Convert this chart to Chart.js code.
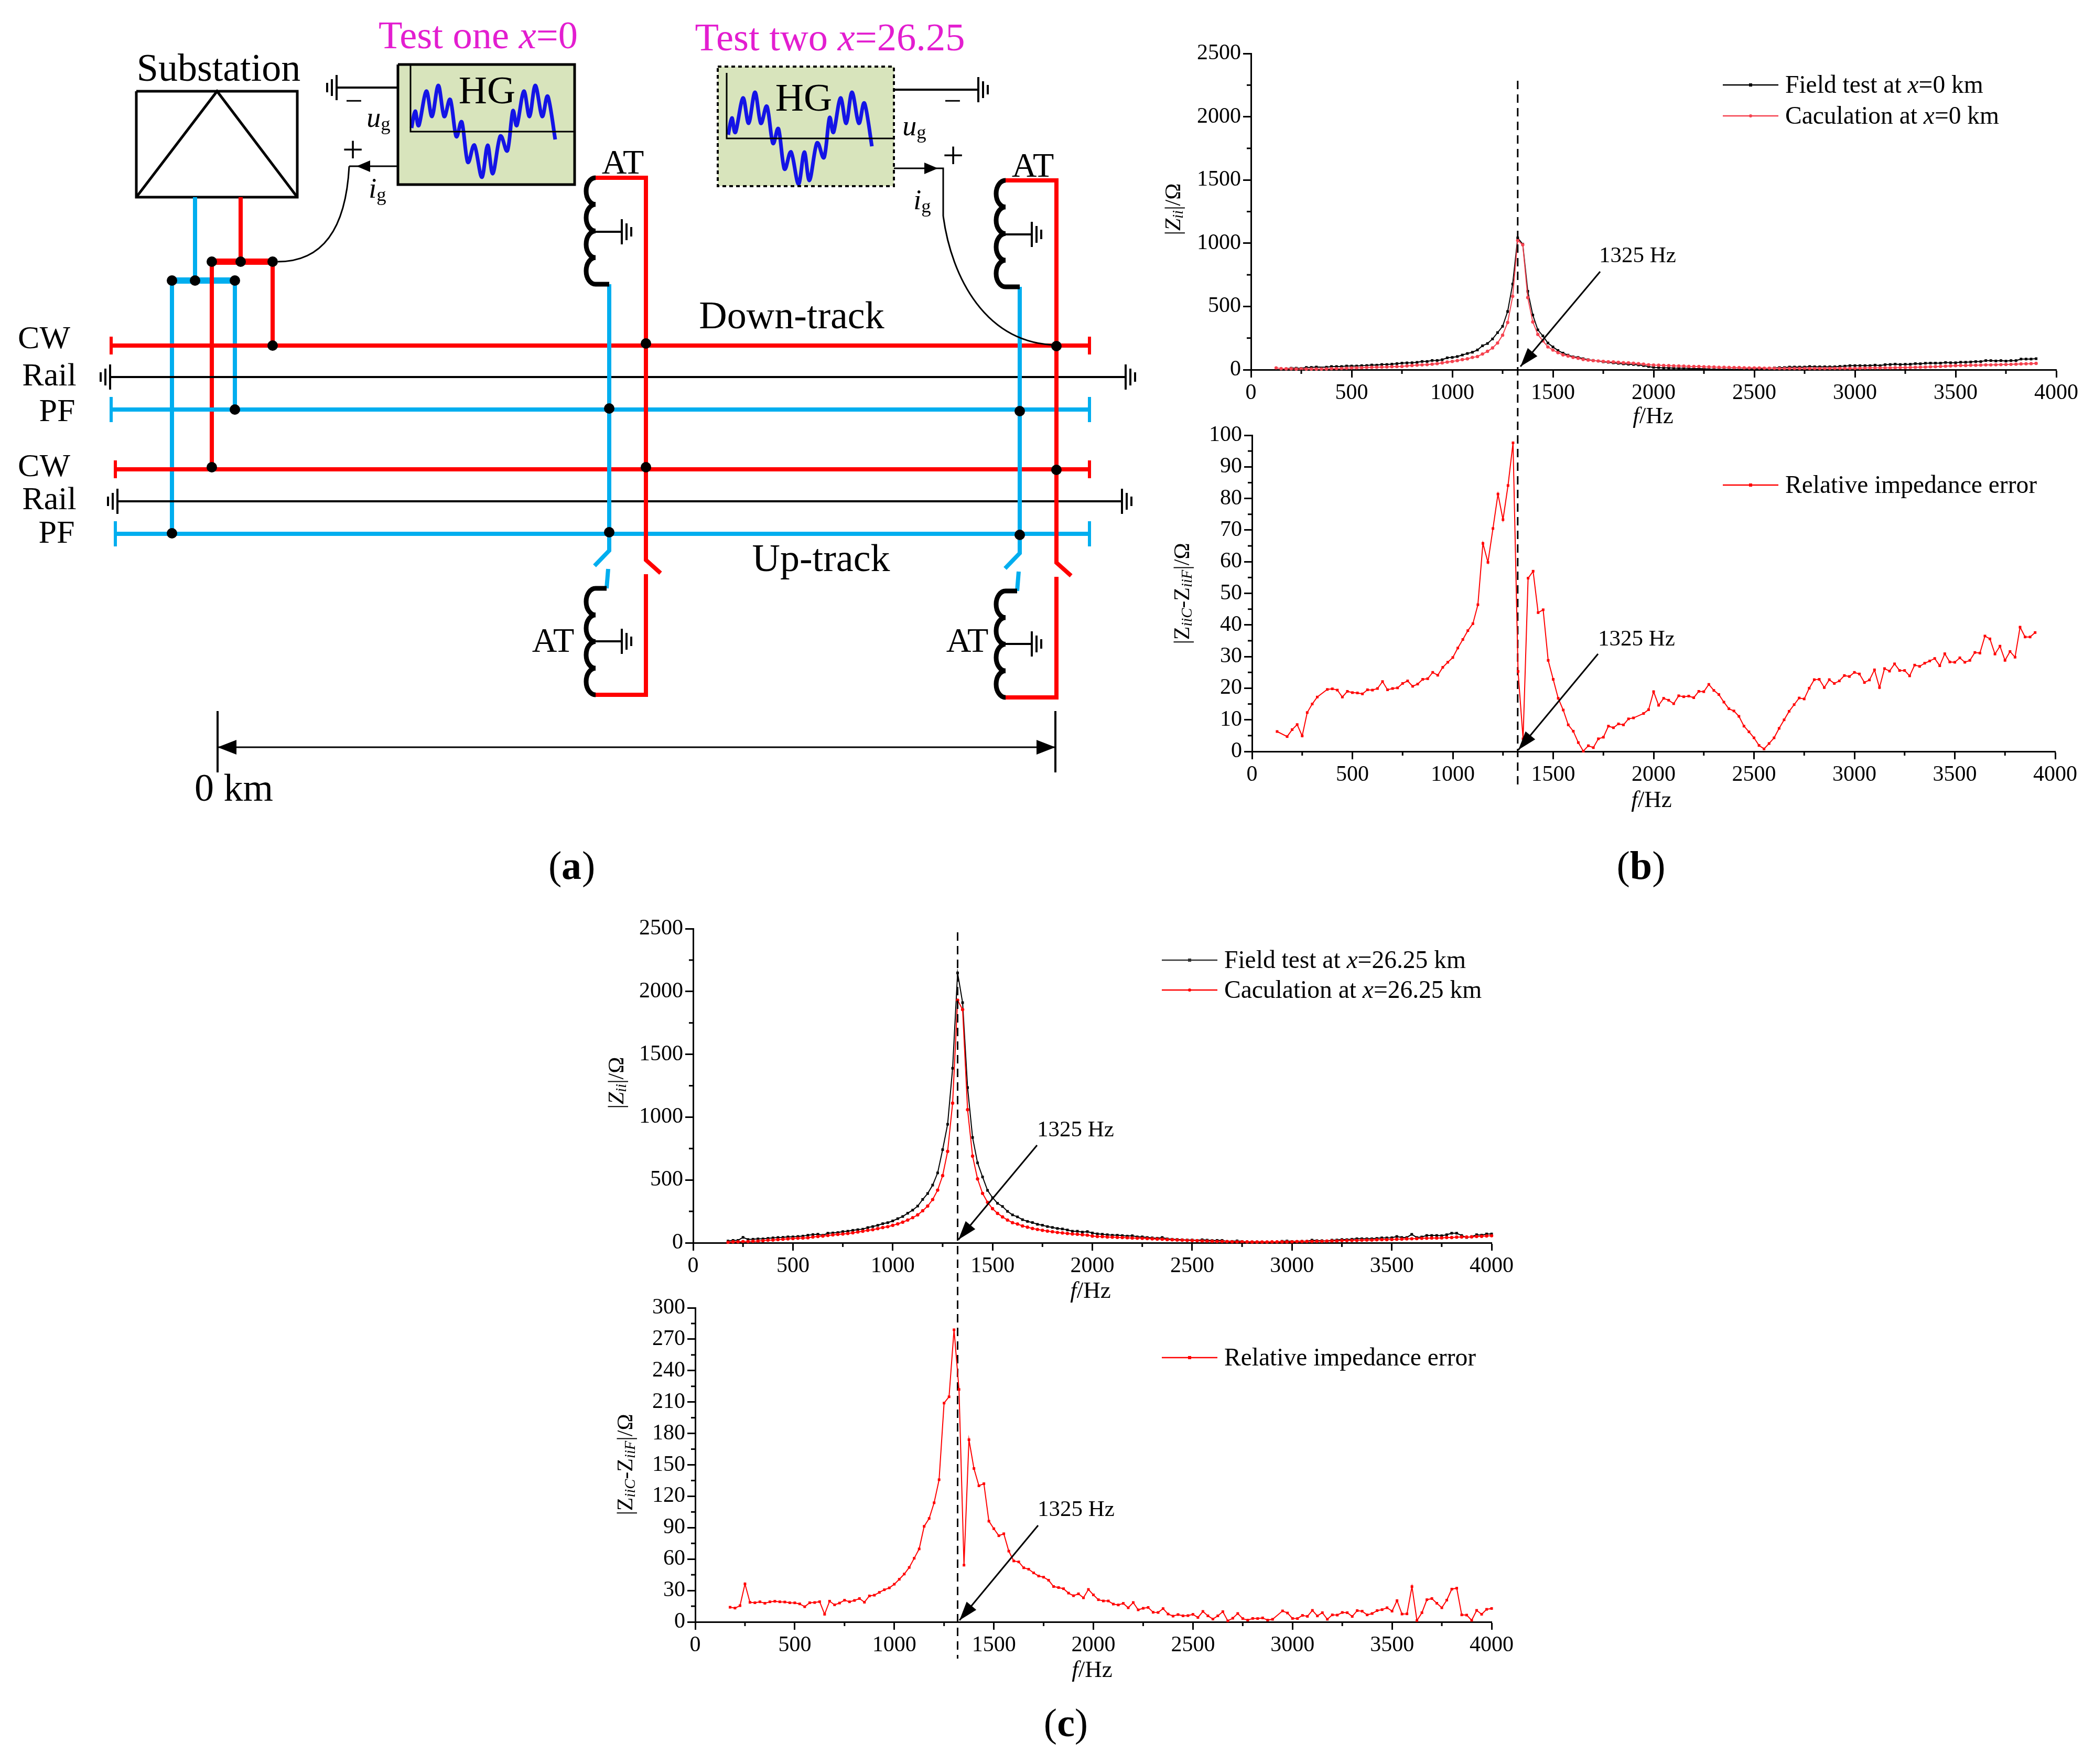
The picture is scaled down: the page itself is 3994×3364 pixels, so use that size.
<!doctype html>
<html lang="en">
<head>
<meta charset="utf-8">
<title>Impedance frequency scan</title>
<script src="https://cdn.jsdelivr.net/npm/chart.js@4/dist/chart.umd.min.js"></script>
<style>
  html, body { margin: 0; padding: 0; background: #fff; }
  #page { position: relative; width: 3994px; height: 3364px; overflow: hidden; }
  canvas { position: absolute; }
</style>
</head>
<body>
<div id="page"></div>
<script>
// frequency points, panel (b) and panel (c)
const freqB = [125,150,175,200,225,250,275,300,325,350,375,400,425,450,475,500,525,550,575,600,625,650,675,700,
  725,750,775,800,825,850,875,900,925,950,975,1000,1025,1050,1075,1100,1125,1150,1175,1200,1225,1250,1275,1300,
  1325,1350,1375,1400,1425,1450,1475,1500,1525,1550,1575,1600,1625,1650,1675,1700,1725,1750,1775,1800,1825,1850,1875,1900,
  1925,1950,1975,2000,2025,2050,2075,2100,2125,2150,2175,2200,2225,2250,2275,2300,2325,2350,2375,2400,2425,2450,2475,2500,
  2525,2550,2575,2600,2625,2650,2675,2700,2725,2750,2775,2800,2825,2850,2875,2900,2925,2950,2975,3000,3025,3050,3075,3100,
  3125,3150,3175,3200,3225,3250,3275,3300,3325,3350,3375,3400,3425,3450,3475,3500,3525,3550,3575,3600,3625,3650,3675,3700,
  3725,3750,3775,3800,3825,3850,3875,3900];
const freqC = [175,200,225,250,275,300,325,350,375,400,425,450,475,500,525,550,575,600,625,650,675,700,725,750,
  775,800,825,850,875,900,925,950,975,1000,1025,1050,1075,1100,1125,1150,1175,1200,1225,1250,1275,1300,1325,1350,
  1375,1400,1425,1450,1475,1500,1525,1550,1575,1600,1625,1650,1675,1700,1725,1750,1775,1800,1825,1850,1875,1900,1925,1950,
  1975,2000,2025,2050,2075,2100,2125,2150,2175,2200,2225,2250,2275,2300,2325,2350,2375,2400,2425,2450,2475,2500,2525,2550,
  2575,2600,2625,2650,2675,2700,2725,2750,2775,2800,2825,2850,2875,2900,2925,2950,2975,3000,3025,3050,3075,3100,3125,3150,
  3175,3200,3225,3250,3275,3300,3325,3350,3375,3400,3425,3450,3475,3500,3525,3550,3575,3600,3625,3650,3675,3700,3725,3750,
  3775,3800,3825,3850,3875,3900,3925,3950,3975,4000];

const fieldB = [null,null,7,12,12,10,18,18, 21,null,20,25,25,25,29,29,
  29,32,33,37,36,41,41,44, 48,52,54,55,58,65,65,73,
  73,79,94,97,104,116,128,138, 156,189,207,243,293,343,460,677,
  1042,992,620,432,315,267,211,180, 152,131,115,102,97,87,79,73,
  68,62,58,54,50,46,43,41, 37,32,25,18,17,14,14,12,
  11,11,10,8,8,7,5,4, 3,3,3,3,3,4,5,6,
  7,9,11,14,17,17,21,21, 21,21,25,23,23,23,23,23,
  26,28,32,32,32,32,32,36, 32,40,41,44,41,43,43,48,
  47,51,52,52,52,57,55,55, 59,59,61,64,64,72,72,69,
  72,68,72,72,84,84,84,87];
const calcB = [14,8,7,7,5,6,5,5, 5,5,6,8,9,10,12,14,
  15,16,18,19,20,21,22,24, 25,26,30,33,36,38,40,44,
  48,54,60,65,72,80,86,97, 104,124,145,172,211,273,373,580,
  1022,988,570,377,279,228,180,155, 135,117,108,97,90,81,76,72,
  69,66,62,61,58,55,54,51, 48,44,39,36,35,33,32,30,
  29,28,26,25,25,23,22,21, 19,19,18,17,17,15,14,14,
  14,12,12,11,10,10,10,10, 10,10,10,10,10,10,11,11,
  11,11,11,11,12,13,14,14, 14,15,15,16,17,17,18,19,
  20,21,23,24,26,28,30,32, 33,33,35,35,36,38,38,39,
  40,41,42,44,46,47,48,50];
const errorB = [6.3,null,4.7,6.9,8.5,4.9,12.3,15, 17.2,null,19.6,19.8,19.4,17.2,19,18.6,
  18.5,18.2,19.5,19.4,19.9,22.1,19.5,19.9, 20.1,21.5,22.3,20.6,21.3,22.8,23,25,
  24.1,26.6,28.2,29.7,32.7,35.4,38.2,40.4, 46.4,65.8,59.8,70.5,81.4,73.3,84.1,97.6,
  25.3,4,54.8,57,43.9,44.8,28.8,22.8, 16.8,13.1,8.4,6.4,2.8,0.1,1.8,1.2,
  4,4.5,8,7.5,8.7,8.4,10.3,10.6, null,12,13.2,18.9,14.6,16.8,16.2,15.1,
  17.6,17.3,17.5,17,19,18.9,21.2,19.3, 18,15.6,13.5,12.8,11.1,8,6.2,4.3,
  1.9,0.8,2.5,4.3,7.3,10,12.7,14.8, 16.9,16.6,20,22.7,22.8,20.2,22.7,21.5,
  22.3,24,23.7,25,24.5,21.8,22.6,25.8, 20.2,26.2,25.4,27.7,25.6,25.6,23.9,27.3,
  26.9,27.9,28.6,29.4,27.1,30.9,28.3,28.2, 29.6,28.2,28.8,31.3,31.1,36.5,35.6,30.8,
  33.3,28.8,31.6,29.8,39.3,36.2,36.2,37.6];

const fieldC = [14,19,19,43,26,28,31,31, 35,39,42,43,47,47,50,53,
  60,65,68,60,76,78,81,89, 92,99,104,108,121,129,139,152,
  160,174,192,209,235,260,292,345, 392,459,556,741,943,1389,2148,1911,
  1235,838,636,524,417,359,314,289, 250,222,206,184,170,161,147,140,
  129,122,114,110,102,92,92,85, 89,78,71,68,64,60,60,57,
  53,56,47,47,42,39,36,42, 31,28,26,24,22,22,19,24,
  21,18,19,19,11,11,15,10, 7,7,7,6,6,4,4,12,
  14,10,10,12,12,21,17,17, 14,21,22,26,25,28,32,32,
  32,32,35,39,39,40,50,42, 42,67,42,46,58,58,58,56,
  64,76,76,58,42,49,64,61, 70,70];
const calcC = [4,7,8,10,10,13,14,17, 21,22,25,28,31,33,36,38,
  40,46,50,53,58,63,67,70, 74,79,86,92,99,104,113,121,
  128,139,150,164,181,200,222,255, 292,344,419,534,727,1111,1931,1856,
  1059,690,508,393,322,271,234,206, 181,160,149,134,124,114,106,99,
  93,88,82,78,74,70,68,64, 61,53,50,49,46,45,43,42,
  40,38,36,35,33,31,29,28, 25,24,22,21,19,18,17,15,
  14,13,11,11,10,8,8,7, 7,6,6,6,6,7,7,7,
  7,8,10,10,11,11,12,12, 14,15,15,18,18,19,19,21,
  22,22,24,25,25,26,28,29, 31,32,33,35,36,38,38,39,
  42,42,45,46,46,47,50,51, 54,56];
const errorC = [14,13.2,15.5,36.3,18.7,18.3,19.2,17.8, 19.2,19.7,19.2,19,18.3,18.2,17.2,14.5,
  18.3,18.5,19.3,7.3,19.8,16.3,18,20.7, 19.2,20.5,22.3,18.8,24.8,25.5,28.2,30.7,
  32.5,36,40.7,45.7,52,60.8,69.7,91.3, 98.8,113.8,135.8,209,215,279,222,54.2,
  174,146.5,130,132,96.2,89,82.3,84.2, 67.6,58.2,57.3,51.7,50.3,46.8,43.8,42.7,
  39.8,33.8,32.8,31.7,27.5,25,26.8,23, 31,25.8,21.2,20,20,17,16.2,17.7,
  13.5,18.5,11.5,13,13.8,9.2,9,12.7, 7.5,5.5,7,5.8,6,7.2,4.2,10,
  5.8,2.7,5.8,9.8,1,3.5,8,3.2, 1.7,3.3,3.2,3.8,1.7,2.5,null,10.5,
  8.5,3.3,3.2,6.2,5.3,11,5.7,8.8, 2.5,6.7,6.5,9,8.8,5.2,10.8,10.2,
  6.7,8,10.8,11.7,13.5,10.3,20.3,7.5, 7.7,33.7,1.3,8.8,21.2,22.3,17.8,13.5,
  20.8,31.3,32.2,6.7,6.5,1.5,11,7.3, 12,12.8];

const SERIF = '"Liberation Serif"';
const RED = '#ff0000', SOFTRED = '#f5424f', BLUE = '#00aeef', MAGENTA = '#e31ed0', OLIVE = '#d8e4bc';

Chart.defaults.font.family = SERIF;
Chart.defaults.color = '#000';

function points(freq, vals) {
  return freq.map((f, i) => ({ x: f, y: vals[i] }));
}

function addCanvas(box) {
  const c = document.createElement('canvas');
  c.width = box.right - box.left;
  c.height = box.bottom - box.top;
  c.style.left = box.left + 'px';
  c.style.top = box.top + 'px';
  c.style.width = c.width + 'px';
  c.style.height = c.height + 'px';
  document.getElementById('page').appendChild(c);
  return c;
}

// text in mixed styles: runs are [string, 'r' | 'i' | 's'(subscript italic) | 'g'(subscript upright)]
function richText(ctx, runs, x, y, size, align) {
  ctx.textBaseline = 'middle';
  ctx.textAlign = 'left';
  const small = k => k === 's' || k === 'g';
  const fontOf = k => (k === 'r' || k === 'g' ? '' : 'italic ') + (small(k) ? size * 0.68 : size) + 'px ' + SERIF;
  let w = 0;
  runs.forEach(r => { ctx.font = fontOf(r[1]); w += ctx.measureText(r[0]).width; });
  let cx = align === 'center' ? x - w / 2 : x;
  const by = y + 3;
  runs.forEach(r => {
    ctx.font = fontOf(r[1]);
    ctx.fillText(r[0], cx, small(r[1]) ? by + size * 0.2 : by);
    cx += ctx.measureText(r[0]).width;
  });
}

function arrowHead(ctx, x0, y0, x1, y1, len, half) {
  const a = Math.atan2(y1 - y0, x1 - x0);
  ctx.beginPath();
  ctx.moveTo(x1, y1);
  ctx.lineTo(x1 - len * Math.cos(a) - half * Math.sin(a), y1 - len * Math.sin(a) + half * Math.cos(a));
  ctx.lineTo(x1 - len * Math.cos(a) + half * Math.sin(a), y1 - len * Math.sin(a) - half * Math.cos(a));
  ctx.closePath();
  ctx.fill();
}

// one plot panel, plot gives the wanted chart area in page pixels
function makePanel(p) {
  const box = p.box, plot = p.plot;
  const overlay = {
    id: 'overlay',
    afterDraw(chart) {
      const ctx = chart.ctx, xs = chart.scales.x, ys = chart.scales.y;
      const ox = box.left, oy = box.top;
      ctx.save();
      ctx.fillStyle = '#000';
      ctx.strokeStyle = '#000';

      // minor ticks
      ctx.lineWidth = 3;
      for (let v = 250; v < 4000; v += 500) {
        const px = xs.getPixelForValue(v);
        ctx.beginPath(); ctx.moveTo(px, xs.top); ctx.lineTo(px, xs.top + 8); ctx.stroke();
      }
      for (let v = p.yStep / 2; v < p.yMax; v += p.yStep) {
        const py = ys.getPixelForValue(v);
        ctx.beginPath(); ctx.moveTo(xs.left, py); ctx.lineTo(xs.left - 8, py); ctx.stroke();
      }

      // 1325 Hz marker line
      if (p.dash) {
        const px = xs.getPixelForValue(1325);
        ctx.save();
        ctx.lineWidth = 3;
        ctx.setLineDash([16, 10]);
        ctx.beginPath(); ctx.moveTo(px, p.dash[0] - oy); ctx.lineTo(px, p.dash[1] - oy); ctx.stroke();
        ctx.restore();
      }

      // arrow + label
      const n = p.note;
      ctx.lineWidth = 3;
      ctx.beginPath();
      ctx.moveTo(n.from[0] - ox, n.from[1] - oy);
      ctx.lineTo(n.to[0] - ox, n.to[1] - oy);
      ctx.stroke();
      arrowHead(ctx, n.from[0] - ox, n.from[1] - oy, n.to[0] - ox, n.to[1] - oy, 36, 12);
      richText(ctx, [['1325 Hz', 'r']], n.text[0] - ox, n.text[1] - oy, 43, 'left');

      // axis titles
      richText(ctx, [['f', 'i'], ['/Hz', 'r']], p.xTitle[0] - ox, p.xTitle[1] - oy, 45, 'center');
      ctx.save();
      ctx.translate(p.yTitle[0] - ox, p.yTitle[1] - oy);
      ctx.rotate(-Math.PI / 2);
      richText(ctx, p.yTitleRuns, 0, -3, 42, 'center');
      ctx.restore();

      // legend
      p.legend.forEach(l => {
        ctx.save();
        ctx.strokeStyle = l.color;
        ctx.fillStyle = l.color;
        ctx.lineWidth = 2.5;
        ctx.beginPath(); ctx.moveTo(l.x - ox, l.y - oy); ctx.lineTo(l.x + 106 - ox, l.y - oy); ctx.stroke();
        if (l.round) {
          ctx.beginPath(); ctx.arc(l.x + 53 - ox, l.y - oy, 3, 0, Math.PI * 2); ctx.fill();
        } else {
          ctx.fillRect(l.x + 50 - ox, l.y - 3 - oy, 6, 6);
        }
        ctx.restore();
        richText(ctx, l.runs, l.x + 119 - ox, l.y - oy, 47.5, 'left');
      });

      // panel letter
      if (p.letter) {
        ctx.textBaseline = 'middle';
        ctx.textAlign = 'left';
        const [lx, ly] = [p.letter[1] - ox, p.letter[2] - oy + 3];
        ctx.font = '76px ' + SERIF;
        const pw = ctx.measureText('(').width;
        ctx.font = 'bold 76px ' + SERIF;
        const lw = ctx.measureText(p.letter[0]).width;
        const start = lx - (2 * pw + lw) / 2;
        ctx.font = '76px ' + SERIF;
        ctx.fillText('(', start, ly);
        ctx.fillText(')', start + pw + lw, ly);
        ctx.font = 'bold 76px ' + SERIF;
        ctx.fillText(p.letter[0], start + pw, ly);
      }
      ctx.restore();
    }
  };

  const axisCommon = {
    type: 'linear',
    border: { color: '#000', width: 3 },
    grid: { drawOnChartArea: false, drawTicks: true, tickLength: 15, tickWidth: 3, tickColor: '#000' }
  };
  const plain = v => String(v);

  return new Chart(addCanvas(box), {
    type: 'line',
    data: {
      datasets: p.series.map((s, i) => ({
        data: s.data,
        order: i,
        borderColor: s.color,
        backgroundColor: s.color,
        borderWidth: 2,
        pointRadius: s.round ? 3.2 : 3.5,
        pointStyle: s.round ? 'circle' : 'rect',
        pointBorderWidth: 0,
        pointBackgroundColor: s.color,
        tension: 0,
        spanGaps: true,
        clip: false
      }))
    },
    options: {
      responsive: false,
      animation: false,
      devicePixelRatio: 1,
      layout: {
        padding: { top: plot.top - box.top, right: box.right - plot.right, left: 0, bottom: 0 }
      },
      plugins: { legend: { display: false }, tooltip: { enabled: false } },
      scales: {
        x: Object.assign({}, axisCommon, {
          min: 0, max: 4000,
          ticks: { stepSize: 500, maxRotation: 0, padding: 5, font: { size: 42 }, color: '#000', callback: plain },
          afterFit(scale) { scale.height = box.bottom - plot.bottom; }
        }),
        y: Object.assign({}, axisCommon, {
          min: 0, max: p.yMax,
          ticks: { stepSize: p.yStep, padding: 4, font: { size: 42 }, color: '#000', callback: plain },
          afterFit(scale) { scale.width = plot.left - box.left; }
        })
      }
    },
    plugins: [overlay]
  });
}

const zTitle = [['|', 'r'], ['Z', 'i'], ['ii', 's'], ['|/\u03a9', 'r']];
const errTitle = [['|Z', 'r'], ['iiC', 's'], ['-Z', 'r'], ['iiF', 's'], ['|/\u03a9', 'r']];

makePanel({
  box: { left: 2200, top: 20, right: 3994, bottom: 1560 },
  plot: { left: 2386, top: 102, right: 3922, bottom: 705 },
  yMax: 2500, yStep: 500, dash: [154, 1504],
  series: [
    { data: points(freqB, calcB), color: SOFTRED, round: true },
    { data: points(freqB, fieldB), color: '#000' }
  ],
  note: { text: [3050, 486], from: [3052, 518], to: [2900, 699] },
  xTitle: [3153, 792], yTitle: [2240, 399], yTitleRuns: zTitle,
  legend: [
    { x: 3286, y: 162, color: '#000', runs: [['Field test at ', 'r'], ['x', 'i'], ['=0 km', 'r']] },
    { x: 3286, y: 221, color: SOFTRED, round: true, runs: [['Caculation at ', 'r'], ['x', 'i'], ['=0 km', 'r']] }
  ]
});

makePanel({
  box: { left: 2200, top: 780, right: 3994, bottom: 1720 },
  plot: { left: 2388, top: 830, right: 3920, bottom: 1433 },
  yMax: 100, yStep: 10,
  series: [{ data: points(freqB, errorB), color: RED }],
  note: { text: [3048, 1217], from: [3048, 1247], to: [2896, 1430] },
  xTitle: [3150, 1524], yTitle: [2257, 1132], yTitleRuns: errTitle,
  legend: [{ x: 3286, y: 925, color: RED, runs: [['Relative impedance error', 'r']] }],
  letter: ['b', 3130, 1653]
});

makePanel({
  box: { left: 1100, top: 1740, right: 2960, bottom: 3200 },
  plot: { left: 1322, top: 1771, right: 2845, bottom: 2370 },
  yMax: 2500, yStep: 500, dash: [1778, 3163],
  series: [
    { data: points(freqC, calcC), color: RED, round: true },
    { data: points(freqC, fieldC), color: '#000' }
  ],
  note: { text: [1978, 2153], from: [1978, 2184], to: [1828, 2364] },
  xTitle: [2080, 2460], yTitle: [1178, 2065], yTitleRuns: zTitle,
  legend: [
    { x: 2216, y: 1831, color: '#333', runs: [['Field test at ', 'r'], ['x', 'i'], ['=26.25 km', 'r']] },
    { x: 2216, y: 1888, color: RED, round: true, runs: [['Caculation at ', 'r'], ['x', 'i'], ['=26.25 km', 'r']] }
  ]
});

makePanel({
  box: { left: 1100, top: 2450, right: 2960, bottom: 3340 },
  plot: { left: 1326, top: 2494, right: 2845, bottom: 3093 },
  yMax: 300, yStep: 30,
  series: [{ data: points(freqC, errorC), color: RED }],
  note: { text: [1979, 2877], from: [1980, 2909], to: [1830, 3090] },
  xTitle: [2083, 3183], yTitle: [1195, 2793], yTitleRuns: errTitle,
  legend: [{ x: 2216, y: 2589, color: RED, runs: [['Relative impedance error', 'r']] }],
  letter: ['c', 2033, 3288]
});

// panel (a), the wiring schematic, drawn on an empty chart
function drawSchematic(ctx) {
  const line = (pts, color, w) => {
    ctx.strokeStyle = color; ctx.lineWidth = w; ctx.lineCap = 'butt'; ctx.lineJoin = 'miter';
    ctx.beginPath();
    pts.forEach((q, i) => (i ? ctx.lineTo(q[0], q[1]) : ctx.moveTo(q[0], q[1])));
    ctx.stroke();
  };
  const dot = (x, y) => { ctx.fillStyle = '#000'; ctx.beginPath(); ctx.ellipse(x, y, 10, 10, 0, 0, Math.PI * 2); ctx.fill(); };
  const label = (t, x, y, size, color, font) => {
    ctx.fillStyle = color || '#000';
    ctx.font = (font || '') + ' ' + size + 'px ' + SERIF;
    ctx.textAlign = 'center'; ctx.textBaseline = 'middle';
    ctx.fillText(t, x, y + 3);
  };
  const ground = (x, y, dir) => {
    [[0, 24], [9, 16], [18, 9]].forEach(b => line([[x + dir * b[0], y - b[1]], [x + dir * b[0], y + b[1]]], '#000', 4));
  };
  const coil = (x, y0, y1) => {
    const h = (y1 - y0) / 4;
    ctx.strokeStyle = '#000'; ctx.lineWidth = 9;
    for (let i = 0; i < 4; i++) {
      ctx.beginPath();
      ctx.ellipse(x, y0 + h * (i + 0.5), 18, h / 2, 0, Math.PI / 2, Math.PI * 1.5);
      ctx.stroke();
    }
  };

  // substation
  label('Substation', 417, 132, 74);
  line([[260, 174], [567, 174], [567, 376], [260, 376], [260, 174]], '#000', 5);
  line([[260, 376], [414, 174], [567, 376]], '#000', 5);
  line([[372, 376], [372, 535]], BLUE, 8);
  line([[459, 376], [459, 499]], RED, 8);
  line([[404, 499], [520, 499]], RED, 12);
  line([[328, 535], [448, 535]], BLUE, 12);
  line([[404, 499], [404, 895]], RED, 8);
  line([[520, 499], [520, 659]], RED, 8);
  line([[328, 535], [328, 1018]], BLUE, 8);
  line([[448, 535], [448, 781]], BLUE, 8);

  // catenary, rail and feeder lines
  const red = (x0, y) => { line([[x0, y], [2078, y]], RED, 8); line([[x0, y - 17], [x0, y + 17]], RED, 6); line([[2078, y - 17], [2078, y + 17]], RED, 6); };
  const blue = (x0, y) => { line([[x0, y], [2078, y]], BLUE, 8); line([[x0, y - 24], [x0, y + 24]], BLUE, 6); line([[2078, y - 24], [2078, y + 24]], BLUE, 6); };
  red(212, 659); blue(212, 781); red(220, 895); blue(220, 1018);
  line([[210, 719], [2147, 719]], '#000', 4);
  line([[224, 956], [2140, 956]], '#000', 4);
  ground(210, 719, -1); ground(2147, 719, 1);
  ground(224, 956, -1); ground(2140, 956, 1);
  [['CW', 84, 645], ['Rail', 94, 716], ['PF', 109, 784], ['CW', 84, 889], ['Rail', 94, 952], ['PF', 108, 1016]]
    .forEach(t => label(t[0], t[1], t[2], 62));

  // autotransformers
  [{ b: 1162, r: 1232, dy: 0, c: 1136 }, { b: 1945, r: 2015, dy: 5, c: 1918 }].forEach(s => {
    const d = s.dy;
    line([[s.c, 339 + d], [s.r, 339 + d], [s.r, 1068 + d], [s.r + 28, 1093 + d]], RED, 8);
    line([[s.r, 1095 + d], [s.r, 1325 + d], [s.c, 1325 + d]], RED, 8);
    line([[s.b, 542 + d], [s.b, 1050 + d], [s.b - 28, 1079 + d]], BLUE, 8);
    line([[s.b - 2, 1085 + d], [s.b - 5, 1122 + d]], BLUE, 8);
    line([[s.c, 542 + d], [s.b, 542 + d]], '#000', 9);
    line([[s.c, 1122 + d], [s.b - 5, 1122 + d]], '#000', 9);
    coil(s.c, 339 + d, 542 + d);
    coil(s.c, 1122 + d, 1325 + d);
    line([[s.c, 442 + d], [s.c + 50, 442 + d]], '#000', 4);
    line([[s.c, 1223 + d], [s.c + 50, 1223 + d]], '#000', 4);
    ground(s.c + 50, 442 + d, 1);
    ground(s.c + 50, 1223 + d, 1);
    dot(s.r, 655 + d); dot(s.b, 779 + d); dot(s.r, 891 + d); dot(s.b, 1015 + d);
  });
  label('AT', 1188, 311, 66); label('AT', 1055, 1223, 66);
  label('AT', 1970, 317, 66); label('AT', 1845, 1223, 66);

  [[404, 499], [459, 499], [520, 499], [328, 535], [372, 535], [448, 535],
   [520, 659], [448, 781], [404, 891], [328, 1017]].forEach(q => dot(q[0], q[1]));

  // test boxes
  const wave = [[785,244],[792,212],[799,239],[813,174],[824,222],[836,163],[847,222],[859,190],[870,260],[881,233],[892,309],[905,277],[919,338],[930,277],[940,331],[954,260],[968,287],[978,212],[986,239],[999,174],[1010,222],[1021,163],[1034,222],[1045,184],[1059,266]];
  const drawWave = (dx, dy) => {
    ctx.strokeStyle = '#1414e6'; ctx.lineWidth = 7; ctx.lineJoin = 'round';
    ctx.beginPath();
    ctx.moveTo(wave[0][0] + dx, wave[0][1] + dy);
    for (let i = 0; i < wave.length - 1; i++) {
      const a = wave[Math.max(i - 1, 0)], b = wave[i], c = wave[i + 1], e = wave[Math.min(i + 2, wave.length - 1)];
      ctx.bezierCurveTo(b[0] + (c[0] - a[0]) / 6 + dx, b[1] + (c[1] - a[1]) / 6 + dy,
        c[0] - (e[0] - b[0]) / 6 + dx, c[1] - (e[1] - b[1]) / 6 + dy, c[0] + dx, c[1] + dy);
    }
    ctx.stroke();
  };
  ctx.fillStyle = OLIVE;
  ctx.fillRect(759, 123, 337, 229);
  ctx.fillRect(1369, 127, 336, 228);
  drawWave(0, 0);
  drawWave(604, 13);
  line([[759, 123], [1096, 123], [1096, 352], [759, 352], [759, 123]], '#000', 5);
  ctx.setLineDash([7, 6]);
  line([[1369, 127], [1705, 127], [1705, 355], [1369, 355], [1369, 127]], '#000', 4);
  ctx.setLineDash([]);
  line([[783, 125], [783, 251], [1096, 251]], '#000', 3);
  line([[1386, 139], [1386, 264], [1705, 264]], '#000', 3);
  label('HG', 929, 174, 75);
  label('HG', 1533, 188, 75);

  // left test leads
  line([[759, 167], [642, 167]], '#000', 4);
  ground(642, 167, -1);
  label('\u2212', 675, 193, 60);
  label('+', 673, 287, 72);
  line([[759, 317], [666, 317]], '#000', 3);
  ctx.fillStyle = '#000';
  arrowHead(ctx, 759, 317, 680, 317, 26, 11);
  ctx.strokeStyle = '#000'; ctx.lineWidth = 3;
  ctx.beginPath(); ctx.moveTo(666, 317); ctx.bezierCurveTo(660, 430, 620, 499, 530, 499); ctx.stroke();
  ctx.fillStyle = '#000';
  richText(ctx, [['u', 'i'], ['g', 'g']], 722, 225, 54, 'center');
  richText(ctx, [['i', 'i'], ['g', 'g']], 720, 360, 54, 'center');

  // right test leads
  line([[1705, 171], [1866, 171]], '#000', 4);
  ground(1866, 171, 1);
  label('\u2212', 1817, 193, 60);
  label('+', 1818, 298, 72);
  line([[1705, 321], [1799, 321], [1799, 412]], '#000', 3);
  ctx.fillStyle = '#000';
  arrowHead(ctx, 1705, 321, 1789, 321, 26, 11);
  ctx.strokeStyle = '#000'; ctx.lineWidth = 3;
  ctx.beginPath(); ctx.moveTo(1799, 412); ctx.bezierCurveTo(1815, 530, 1880, 655, 2015, 658); ctx.stroke();
  ctx.fillStyle = '#000';
  richText(ctx, [['u', 'i'], ['g', 'g']], 1744, 241, 54, 'center');
  richText(ctx, [['i', 'i'], ['g', 'g']], 1759, 382, 54, 'center');

  // titles
  ctx.fillStyle = MAGENTA;
  richText(ctx, [['Test one ', 'r'], ['x', 'i'], ['=0', 'r']], 912, 69, 74.5, 'center');
  richText(ctx, [['Test two ', 'r'], ['x', 'i'], ['=26.25', 'r']], 1583, 73, 74.5, 'center');
  label('Down-track', 1510, 604, 74);
  label('Up-track', 1566, 1067, 74);

  // distance bar
  line([[415, 1356], [415, 1473]], '#000', 4);
  line([[2013, 1356], [2013, 1473]], '#000', 4);
  line([[415, 1425], [2013, 1425]], '#000', 3);
  ctx.fillStyle = '#000';
  arrowHead(ctx, 2013, 1425, 415, 1425, 36, 14);
  arrowHead(ctx, 415, 1425, 2013, 1425, 36, 14);
  label('0 km', 446, 1505, 74);

  // panel letter
  ctx.textAlign = 'left'; ctx.textBaseline = 'middle'; ctx.fillStyle = '#000';
  ctx.font = '76px ' + SERIF;
  ctx.fillText('(', 1046, 1656);
  ctx.fillText(')', 1110, 1656);
  ctx.font = 'bold 76px ' + SERIF;
  ctx.fillText('a', 1071, 1656);
}

new Chart(addCanvas({ left: 0, top: 0, right: 2200, bottom: 1720 }), {
  type: 'line',
  data: { datasets: [] },
  options: {
    responsive: false,
    animation: false,
    devicePixelRatio: 1,
    plugins: { legend: { display: false }, tooltip: { enabled: false } },
    scales: { x: { display: false }, y: { display: false } }
  },
  plugins: [{
    id: 'schematic',
    afterDraw(chart) {
      chart.ctx.save();
      drawSchematic(chart.ctx);
      chart.ctx.restore();
    }
  }]
});
</script>
</body>
</html>
